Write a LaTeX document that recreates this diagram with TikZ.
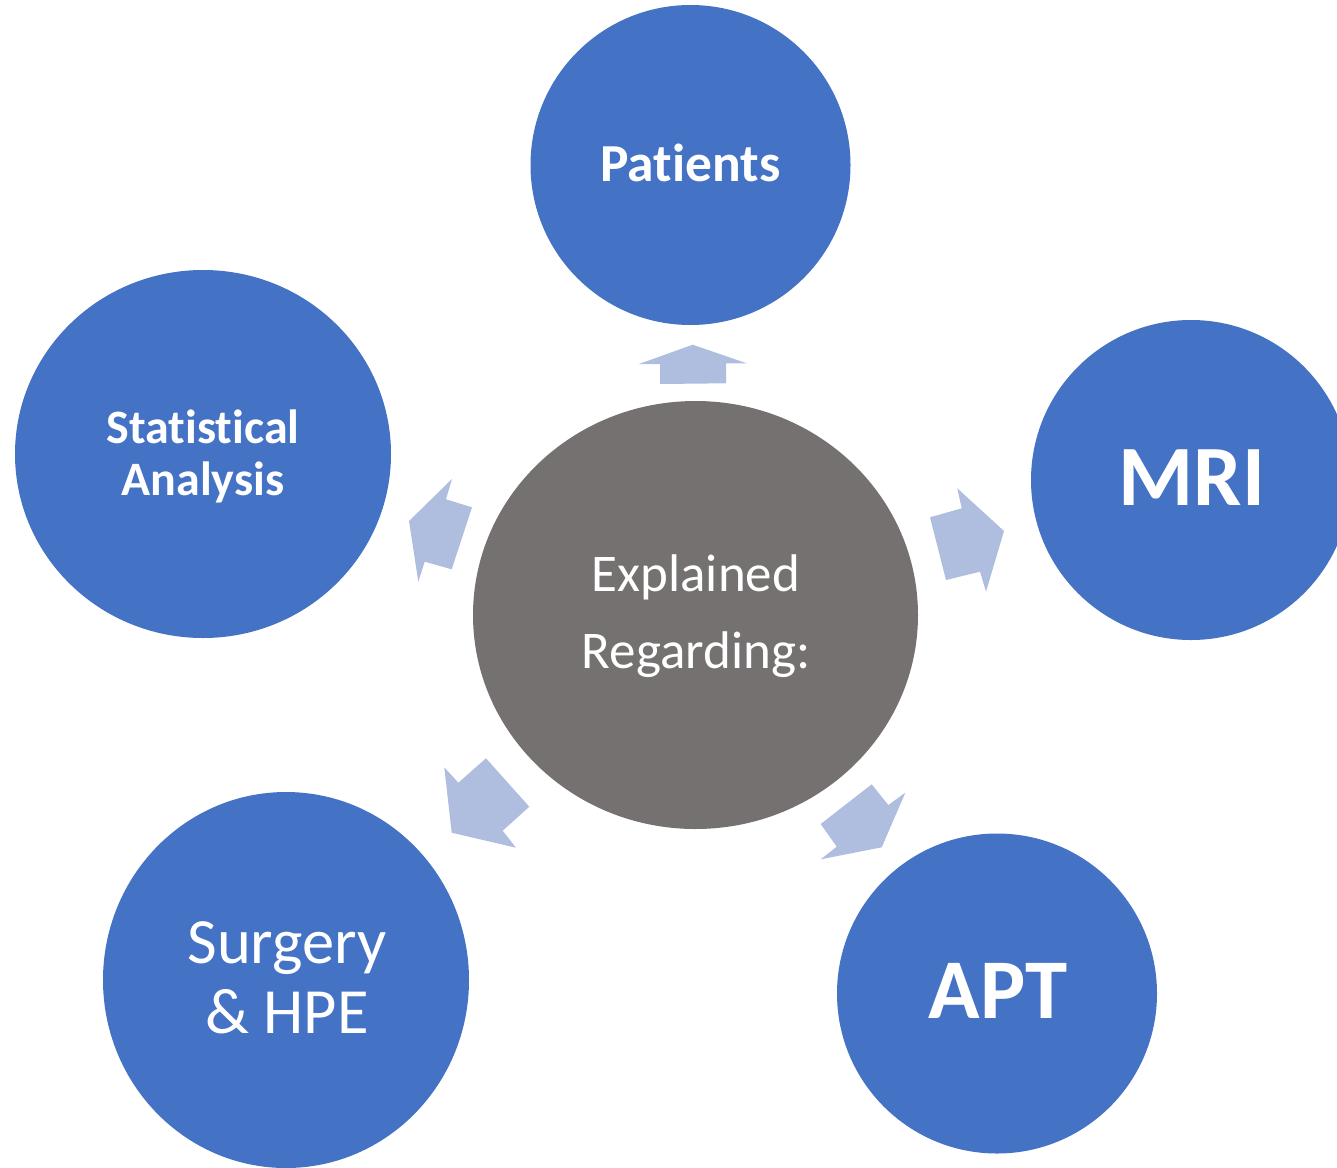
\documentclass[tikz,border=0pt]{standalone}
\usepackage{fontspec}
\setmainfont[Ligatures=NoCommon]{Carlito}
\usetikzlibrary{shapes.geometric}
\definecolor{nodeblue}{HTML}{4472C4}
\definecolor{hubgray}{HTML}{767171}
\definecolor{arrowblue}{HTML}{AFBDDE}
\begin{document}
\begin{tikzpicture}[x=1pt,y=-1pt,
  bubble/.style={ellipse, fill=nodeblue, inner sep=0pt},
  hub/.style={ellipse, fill=hubgray, inner sep=0pt},
  caption/.style={text=white, inner sep=0pt, anchor=base},
  blockarrow/.style={fill=arrowblue, draw=none}]
\useasboundingbox (0,0) rectangle (1337,1167);

% circles
\node[hub, minimum width=445pt, minimum height=428pt] (hub) at (695.5,615) {};
\node[bubble, minimum width=320pt, minimum height=320pt] (patients) at (690.5,165) {};
\node[bubble, minimum width=376pt, minimum height=368pt] (stats) at (203,454) {};
\node[bubble, minimum width=320pt, minimum height=320pt] (mri) at (1191,480) {};
\node[bubble, minimum width=366pt, minimum height=376pt] (surgery) at (286,980) {};
\node[bubble, minimum width=320pt, minimum height=320pt] (apt) at (997,993.5) {};

% captions
\node[caption, font=\fontsize{53}{53}\selectfont] (hubA) at (696,591) {Explained};
\node[caption, font=\fontsize{53}{53}\selectfont] (hubB) at (696,668) {Regarding:};
\node[caption, font=\bfseries\fontsize{53.5}{53.5}\selectfont] (patientsT) at (690.5,181) {Patients};
\node[caption, font=\bfseries\fontsize{48}{48}\selectfont] (statsA) at (203,443) {Statistical};
\node[caption, font=\bfseries\fontsize{48}{48}\selectfont] (statsB) at (203,495) {Analysis};
\node[caption, font=\bfseries\fontsize{86}{86}\selectfont] (mriT) at (1192,505) {MRI};
\node[caption, font=\fontsize{64.5}{64.5}\selectfont] (surgeryA) at (287,963) {Surgery};
\node[caption, font=\fontsize{64.5}{64.5}\selectfont] (surgeryB) at (287,1033) {\& HPE};
\node[caption, font=\bfseries\fontsize{85}{85}\selectfont] (aptT) at (998,1018) {APT};

% block arrows from the hub outwards
\fill[blockarrow] (660,384) -- (660,364) -- (639,364) -- (692.7,344.7)
  -- (746.7,363.3) -- (726,363.3) -- (726,383.3) -- cycle;
\fill[blockarrow] (472,507.3) -- (446,499.3) -- (452,479) -- (409,521)
  -- (418.3,581.7) -- (424.7,561.7) -- (451.7,569.3) -- cycle;
\fill[blockarrow] (930,517.3) -- (961.7,508.3) -- (957.3,488.3) -- (1004,531)
  -- (986,591.7) -- (980,571.7) -- (946,580) -- cycle;
\fill[blockarrow] (486,758.3) -- (458.3,782.7) -- (444.3,767.3) -- (451.7,832.7)
  -- (516,847.7) -- (502.7,830.7) -- (529.3,806.7) -- cycle;
\fill[blockarrow] (871.7,784.3) -- (888.3,805) -- (905.3,792.7) -- (881.7,847.3)
  -- (820.7,859.3) -- (836.7,846.7) -- (820.7,824) -- cycle;
\end{tikzpicture}
\end{document}
